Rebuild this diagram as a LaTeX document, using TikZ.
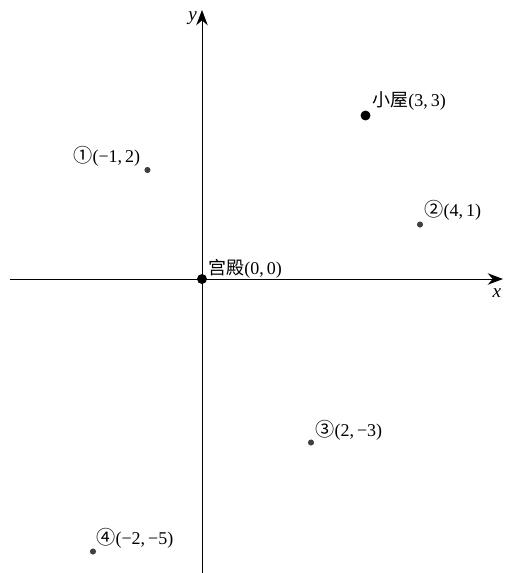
\documentclass[tikz,border=0pt]{standalone}
\usepackage{fontspec}
\setmainfont{Liberation Serif}
\newfontfamily\cjk{Noto Sans CJK SC}
\newfontfamily\circfont{Noto Sans CJK SC}
\usetikzlibrary{arrows.meta}
\tikzset{
  axis/.style={line width=0.5pt,-{Stealth[length=8pt,width=6pt]}},
  bigdot/.style={circle,fill=black,inner sep=0pt,minimum size=5.2pt},
  smalldot/.style={circle,fill=black!75,inner sep=0pt,minimum size=3.2pt},
  lbl/.style={anchor=west,inner sep=0pt,font=\fontsize{9.4}{11}\selectfont},
  axlbl/.style={inner sep=0pt,font=\fontsize{10}{12}\selectfont\itshape}
}
\newcommand{\cnum}[1]{{\circfont\fontsize{10}{11}\selectfont #1}}
\begin{document}
\begin{tikzpicture}
\useasboundingbox (-3.706,-5.394) rectangle (5.615,5.119);
\coordinate (xs) at (-3.523,0);
\coordinate (xe) at (5.523,0);
\coordinate (ys) at (0,-5.45);
\coordinate (ye) at (0,4.936);
\draw[axis] (xs) -- (xe);
\draw[axis] (ys) -- (ye);
\node[axlbl] (ylab) at (-0.17,4.79) {y};
\node[axlbl] (xlab) at (5.41,-0.26) {x};

\node[bigdot] (o) at (0,0) {};
\node[bigdot] (hut) at (3,3) {};
\node[smalldot] (p1) at (-1,2) {};
\node[smalldot] (p2) at (4,1) {};
\node[smalldot] (p3) at (2,-3) {};
\node[smalldot] (p4) at (-2,-5) {};

\node[lbl] (lo) at (0.11,0.183) {{\cjk 宫殿}(0,\,0)};
\node[lbl] (lhut) at (3.119,3.266) {{\cjk 小屋}(3,\,3)};
\node[lbl] (l1) at (-2.367,2.257) {\cnum{①}(−1,\,2)};
\node[lbl] (l2) at (4.073,1.266) {\cnum{②}(4,\,1)};
\node[lbl] (l3) at (2.073,-2.771) {\cnum{③}(2,\,−3)};
\node[lbl] (l4) at (-1.945,-4.752) {\cnum{④}(−2,\,−5)};
\end{tikzpicture}
\end{document}
